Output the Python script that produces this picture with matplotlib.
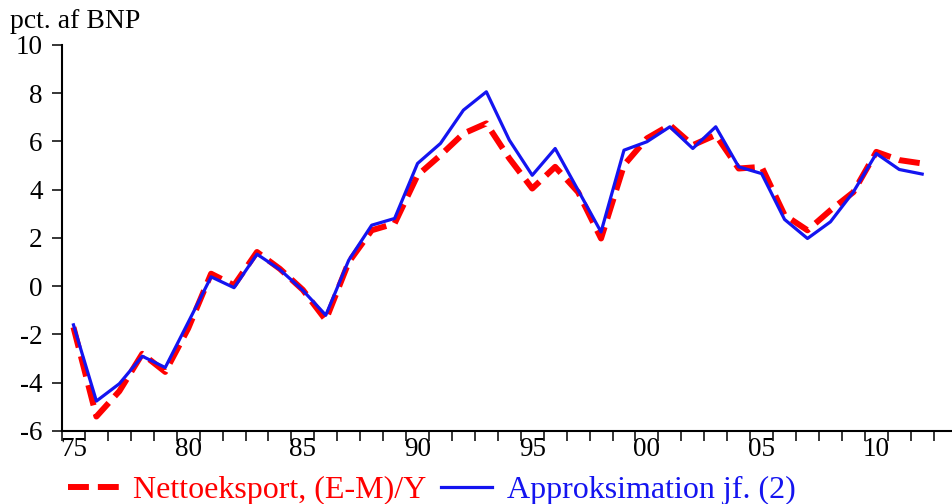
import matplotlib
matplotlib.use("Agg")
import matplotlib.pyplot as plt
from matplotlib.lines import Line2D

years = list(range(1975, 2013))
netto = [-1.7, -5.4, -4.35, -2.8, -3.55, -1.75, 0.52, 0.04, 1.42, 0.72,
         -0.15, -1.4, 1.0, 2.32, 2.6, 4.6, 5.43, 6.33, 6.75, 5.3,
         4.05, 4.95, 3.9, 1.98, 5.02, 6.13, 6.68, 5.85, 6.27, 4.88,
         4.95, 2.95, 2.32, 3.15, 3.9, 5.57, 5.23, 5.09]
approx = [-1.6, -4.76, -4.04, -2.9, -3.37, -1.5, 0.39, -0.06, 1.33, 0.69,
          -0.17, -1.2, 1.08, 2.53, 2.81, 5.09, 5.92, 7.3, 8.06, 6.06,
          4.6, 5.71, 3.98, 2.25, 5.64, 5.99, 6.61, 5.71, 6.61, 4.95,
          4.67, 2.77, 1.98, 2.67, 3.91, 5.5, 4.84, 4.65]
label_years = [1975, 1980, 1985, 1990, 1995, 2000, 2005, 2010]
label_texts = ["75", "80", "85", "90", "95", "00", "05", "10"]
yticks = [-6, -4, -2, 0, 2, 4, 6, 8, 10]
series_names = ["Nettoeksport, (E-M)/Y", "Approksimation jf. (2)"]
red = "#ff0000"
blue = "#1414f0"

plt.rcParams['font.family'] = ['Liberation Serif', 'DejaVu Serif']

W, H = 953, 504
fig = plt.figure(figsize=(W / 100, H / 100), dpi=100)
ax = fig.add_axes([62 / W, 1 - 431 / H, (952 - 62) / W, (431 - 45) / H])

ax.plot(years, netto, color=red, lw=4.3, dashes=(3.5, 1.5), solid_capstyle='butt',
        dash_capstyle='butt')
ax.plot(years, approx, color=blue, lw=2.3)

ax.set_xlim(1974.5, 2013.3)
ax.set_ylim(-6, 10)
for s in ['top', 'right']:
    ax.spines[s].set_visible(False)
for s in ['left', 'bottom']:
    ax.spines[s].set_linewidth(1.5)

ax.set_yticks(yticks)
ax.set_yticklabels([str(v) for v in yticks])
ax.tick_params(axis='y', direction='out', length=7, width=1.1, pad=7, labelsize=19.5)

ax.set_xticks([y - 0.5 for y in range(1975, 2014)])
ax.set_xticklabels([])
ax.tick_params(axis='x', which='major', direction='out', length=7, width=1.1)
ax.set_xticks(label_years, minor=True)
ax.set_xticklabels(label_texts, minor=True)
ax.tick_params(axis='x', which='minor', length=0, pad=4, labelsize=19.5)

fig.text(10 / W, 1 - 28 / H, "pct. af BNP", fontsize=20, va='baseline', ha='left')

handles = [Line2D([], [], color=red, lw=4.3, dashes=(3.5, 1.5)),
           Line2D([], [], color=blue, lw=2.3)]
leg = fig.legend(handles, series_names, loc='center left',
                 bbox_to_anchor=(68 / W, 1 - 490 / H), ncol=2, frameon=False,
                 fontsize=23, handlelength=1.6, handletextpad=0.45,
                 columnspacing=0.45, borderpad=0, borderaxespad=0)
for t, c in zip(leg.get_texts(), [red, blue]):
    t.set_color(c)

fig.savefig("out.png", dpi=100)
